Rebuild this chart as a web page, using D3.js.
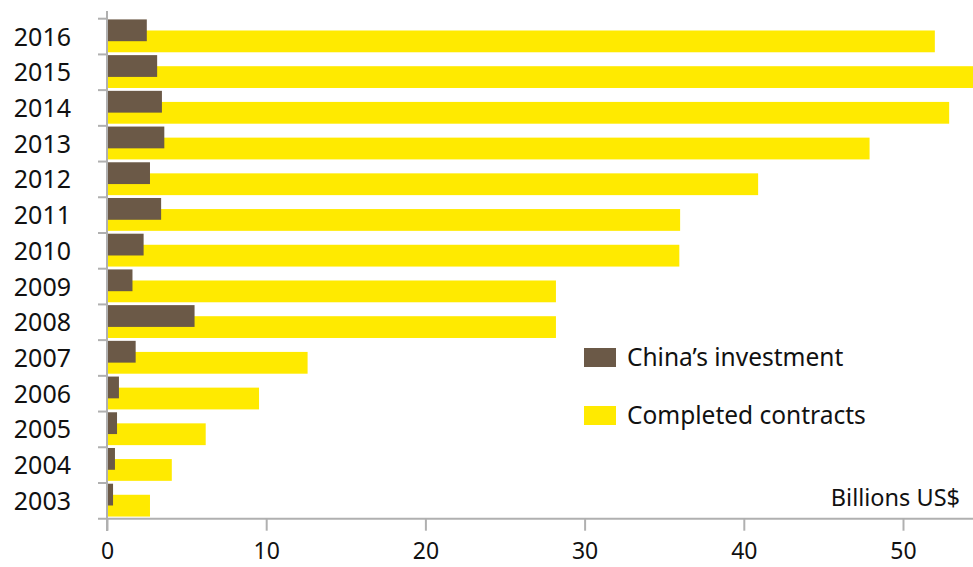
<!DOCTYPE html>
<html lang="en">
<head>
    <meta charset="UTF-8">
    <title>China investment vs completed contracts</title>
    <script src="https://d3js.org/d3.v7.min.js"></script>
    <style>
        body { margin: 0; background: #fff; }
        svg text { font-family: "Noto Sans", sans-serif; fill: #111; }
    </style>
</head>
<body>
<svg id="canvas" width="973" height="567"></svg>
<script>
    // values, billions US$
    const years = ["2016","2015","2014","2013","2012","2011","2010","2009","2008","2007","2006","2005","2004","2003"];
    const investment = [2.5, 3.15, 3.45, 3.6, 2.7, 3.4, 2.3, 1.6, 5.5, 1.8, 0.75, 0.63, 0.5, 0.38];
    const contracts = [52.0, 54.6, 52.9, 47.9, 40.9, 36.0, 35.95, 28.2, 28.2, 12.6, 9.55, 6.2, 4.07, 2.7];
    const xTicks = [0, 10, 20, 30, 40, 50];

    const brown = "#6b5947", yellow = "#ffea00", grey = "#b0b0b0";

    const svg = d3.select("#canvas");
    const x = d3.scaleLinear().domain([0, 50]).range([107, 903]);
    const y = d3.scaleBand().domain(years).range([18.7, 518.7]);
    const step = y.step();

    const rows = years.map((yr, i) => ({yr, inv: investment[i], con: contracts[i]}));

    // yellow bars (completed contracts) under the brown ones
    svg.append("g").selectAll("rect")
        .data(rows).enter().append("rect")
        .attr("x", x(0))
        .attr("y", d => y(d.yr) + step * 0.33)
        .attr("width", d => x(d.con) - x(0))
        .attr("height", step * 0.61)
        .attr("fill", yellow);

    svg.append("g").selectAll("rect")
        .data(rows).enter().append("rect")
        .attr("x", x(0))
        .attr("y", d => y(d.yr) + step * 0.02)
        .attr("width", d => x(d.inv) - x(0))
        .attr("height", step * 0.61)
        .attr("fill", brown);

    // y axis: line + ticks between the years
    const ax = svg.append("g").attr("stroke", grey).attr("stroke-width", 2);
    ax.append("line").attr("x1", x(0)).attr("x2", x(0)).attr("y1", 11).attr("y2", 531);
    ax.selectAll(".yt").data(years).enter().append("line")
        .attr("x1", 98).attr("x2", x(0))
        .attr("y1", d => y(d)).attr("y2", d => y(d));
    ax.append("line").attr("x1", 98).attr("x2", 973).attr("y1", 518.7).attr("y2", 518.7);

    svg.append("g").selectAll("text")
        .data(years).enter().append("text")
        .attr("x", 71)
        .attr("y", d => y(d) + step / 2)
        .attr("dy", "0.36em")
        .attr("text-anchor", "end")
        .style("font-size", "25px")
        .text(d => d);

    // x axis
    const xAxis = svg.append("g")
        .attr("transform", "translate(0,518.7)")
        .call(d3.axisBottom(x).tickValues(xTicks).tickSize(12).tickPadding(12));
    xAxis.select(".domain").remove();
    xAxis.selectAll(".tick line").attr("stroke", grey).attr("stroke-width", 2);
    xAxis.selectAll(".tick text")
        .style("font-size", "23px")
        .attr("fill", "#111")
        .attr("font-family", "Noto Sans, sans-serif");

    // legend
    const legend = [["China\u2019s investment", brown, 348], ["Completed contracts", yellow, 406]];
    const lg = svg.append("g").selectAll("g").data(legend).enter().append("g");
    lg.append("rect").attr("x", 584).attr("y", d => d[2]).attr("width", 32).attr("height", 19).attr("fill", d => d[1]);
    lg.append("text").attr("x", 627).attr("y", d => d[2] + 9.5).attr("dy", "0.36em")
        .style("font-size", "24.5px").text(d => d[0]);

    svg.append("text").attr("x", 960).attr("y", 506)
        .attr("text-anchor", "end").style("font-size", "23.5px").text("Billions US$");
</script>
</body>
</html>
